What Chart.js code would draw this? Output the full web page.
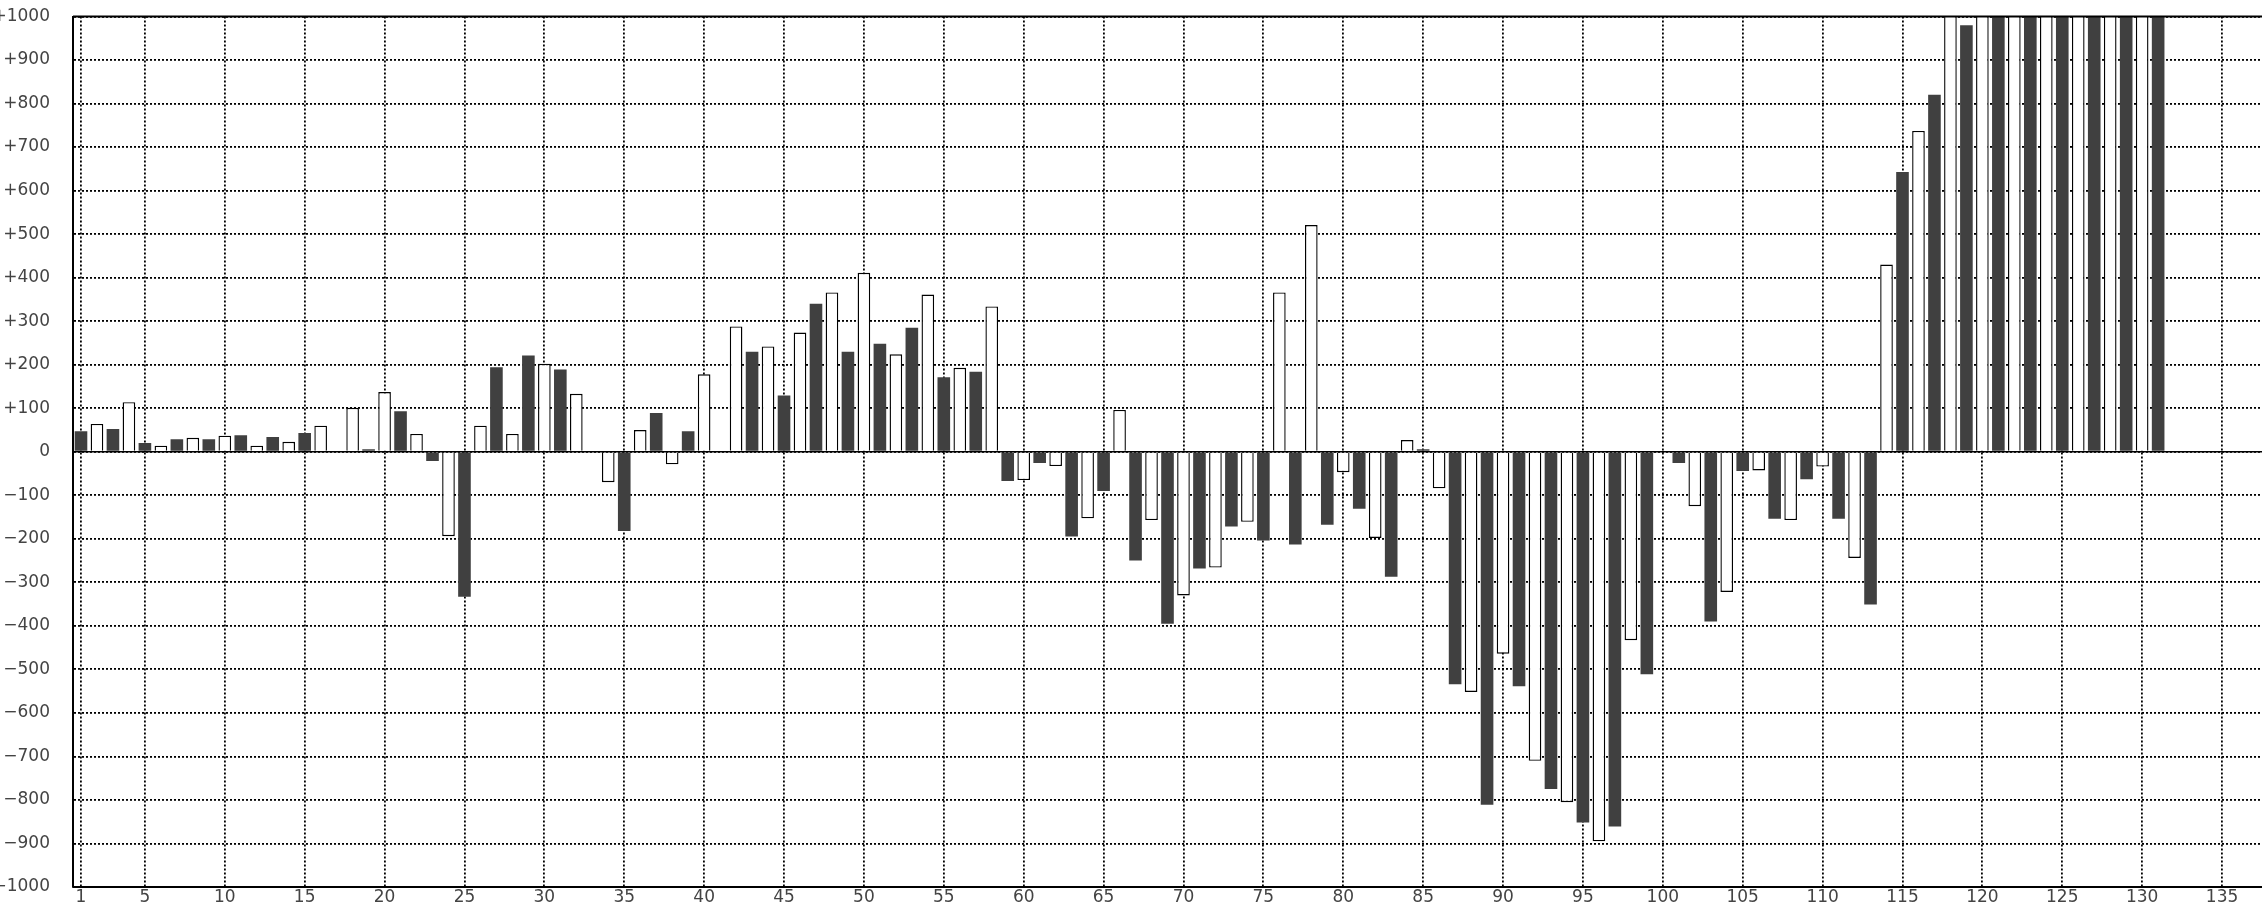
<!DOCTYPE html>
<html>
<head>
<meta charset="utf-8">
<title>Daily bars</title>
<script src="https://cdn.jsdelivr.net/npm/chart.js@4.4.0/dist/chart.umd.min.js"></script>
<style>
  html, body { margin: 0; padding: 0; background: #fff; overflow: hidden; }
  canvas { display: block; }
</style>
</head>
<body>
<canvas id="barChart" width="2262" height="908"></canvas>
<script>
// categories 1..137
const days = Array.from({ length: 137 }, (_, i) => String(i + 1));
const xTickLabels = ["1", "5", "10", "15", "20", "25", "30", "35", "40", "45", "50", "55", "60", "65",
  "70", "75", "80", "85", "90", "95", "100", "105", "110", "115", "120", "125", "130", "135"];

// dark bars: days 1, 3, 5, ...
const oddDayValues = [47, 52, 20, 29, 29, 38, 34, 43, null, 6,
  93, -21, -333, 194, 221, 189, null, -182, 89, 47,
  null, 230, 129, 340, 230, 248, 285, 171, 184, -67,
  -26, -195, -90, -250, -395, -268, -172, -204, -213, -168,
  -131, -287, 6, -534, -811, -539, -775, -852, -861, -511,
  -26, -390, -44, -154, -63, -154, -351, 643, 820, 980,
  1100, 1100, 1100, 1100, 1100, 1100];

// white bars: days 2, 4, 6, ...
const evenDayValues = [64, 114, 14, 32, 37, 14, 23, 60, 101, 137,
  41, -194, 60, 41, 202, 133, -70, 50, -29, 178,
  288, 242, 274, 366, 411, 224, 361, 193, 334, -65,
  -33, -153, 96, -157, -330, -266, -161, 366, 521, -47,
  -198, 27, -84, -552, -464, -710, -805, -895, -433, null,
  -125, -322, -43, -157, -34, -244, 430, 737, 1100, 1100,
  1100, 1100, 1100, 1100, 1100];

const yMin = -1000;
const yMax = 1000;
const yStep = 100;

const tickFont = { family: "DejaVu Sans", size: 17 };

// solid frame lines and zero line over the dotted grid
const framePlugin = {
  id: "frame",
  afterDatasetsDraw(chart) {
    const { ctx, chartArea } = chart;
    const zeroY = chart.scales.y.getPixelForValue(0);
    ctx.save();
    ctx.strokeStyle = "#000";
    ctx.lineWidth = 2;
    ctx.beginPath();
    [chartArea.top, chartArea.bottom].forEach(y => {
      ctx.moveTo(chartArea.left, y);
      ctx.lineTo(chartArea.right, y);
    });
    ctx.stroke();
    ctx.lineWidth = 1.5;
    ctx.beginPath();
    ctx.moveTo(chartArea.left, zeroY);
    ctx.lineTo(chartArea.right, zeroY);
    ctx.stroke();
    ctx.restore();
  }
};

const ctx = document.getElementById("barChart").getContext("2d");

new Chart(ctx, {
  type: "bar",
  data: {
    labels: days,
    datasets: [
      {
        label: "odd",
        data: oddDayValues.map((v, i) => ({ x: days[2 * i], y: v })),
        backgroundColor: "#404040",
        borderWidth: 0
      },
      {
        label: "even",
        data: evenDayValues.map((v, i) => ({ x: days[2 * i + 1], y: v })),
        backgroundColor: "#ffffff",
        borderColor: "#000000",
        borderWidth: 1.4
      }
    ]
  },
  options: {
    responsive: false,
    animation: false,
    layout: { padding: { top: 16.5, right: 0, bottom: 0, left: 0 } },
    datasets: { bar: { grouped: false, categoryPercentage: 1, barPercentage: 0.79 } },
    plugins: { legend: { display: false }, tooltip: { enabled: false } },
    scales: {
      x: {
        type: "category",
        offset: true,
        grid: { offset: false, color: "#000", lineWidth: 1.8, drawTicks: false },
        border: { display: false, dash: [2, 2] },
        ticks: {
          autoSkip: false,
          maxRotation: 0,
          padding: 0,
          color: "#444",
          font: tickFont,
          callback: function (value) {
            const lab = this.getLabelForValue(value);
            return xTickLabels.includes(lab) ? lab : null;
          }
        },
        afterFit: s => { s.height = 21; }
      },
      y: {
        min: yMin,
        max: yMax,
        ticks: {
          stepSize: yStep,
          padding: 0,
          color: "#444",
          font: tickFont,
          callback: v => v > 0 ? "+" + v : (v < 0 ? "\u2212" + Math.abs(v) : "0")
        },
        // invisible tick marks keep the labels 23px off the axis
        grid: { color: "#000", lineWidth: 1.8, drawTicks: true, tickLength: 23, tickWidth: 0 },
        border: { display: true, color: "#000", width: 2, dash: [2, 2] },
        afterFit: s => { s.width = 73; }
      }
    }
  },
  plugins: [framePlugin]
});
</script>
</body>
</html>
